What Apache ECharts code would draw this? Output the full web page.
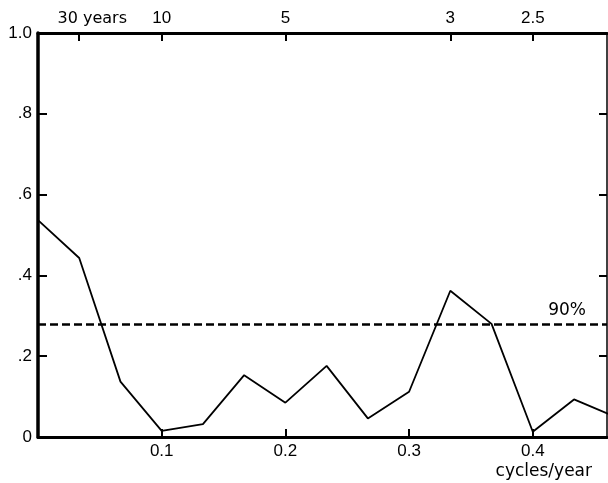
<!DOCTYPE html>
<html>
<head>
<meta charset="utf-8">
<script src="https://cdn.jsdelivr.net/npm/echarts@6/dist/echarts.min.js"></script>
<style>html,body{margin:0;padding:0;background:#fff;}#c{width:608px;height:483px;}</style>
</head>
<body>
<div id="c"></div>
<script>
// frequencies (cycles/year), spacing 1/30
const freqs = [0, 1/30, 2/30, 3/30, 4/30, 5/30, 6/30, 7/30, 8/30, 9/30, 10/30, 11/30, 12/30, 13/30, 14/30];
const power = [0.537, 0.443, 0.137, 0.015, 0.032, 0.153, 0.085, 0.176, 0.046, 0.112, 0.362, 0.28, 0.013, 0.093, 0.05];
const sig90 = 0.277;
const bottomTicks = [0.1, 0.2, 0.3, 0.4];
const periodTicks = [1/30, 1/10, 1/5, 1/3, 1/2.5];
const periodLabels = ['30 years', '10', '5', '3', '2.5'];
const yTicks = [0, 0.2, 0.4, 0.6, 0.8, 1.0];
const yTickLabels = ['0', '.2', '.4', '.6', '.8', '1.0'];

const numFont = 'Liberation Sans';
const chart = echarts.init(document.getElementById('c'), null, {renderer: 'canvas'});
const xMax = 0.46;

function periodLabel(v) {
  for (let i = 0; i < periodTicks.length; i++) {
    if (Math.abs(periodTicks[i] - v) < 1e-6) {
      return i === 0 ? '{w|' + periodLabels[i] + '}' : periodLabels[i];
    }
  }
  return '';
}
function yLabel(v) {
  for (let i = 0; i < yTicks.length; i++) {
    if (Math.abs(yTicks[i] - v) < 1e-6) return yTickLabels[i];
  }
  return '';
}

chart.setOption({
  backgroundColor: '#fff',
  animation: false,
  grid: {left: 38, right: 1, top: 33, bottom: 46, containLabel: false},
  xAxis: [
    {
      type: 'value', position: 'bottom', min: 0, max: xMax,
      splitLine: {show: false},
      axisLine: {show: true, onZero: false, lineStyle: {color: '#000', width: 3}},
      axisTick: {show: true, inside: true, length: 8, lineStyle: {color: '#000', width: 2}, customValues: bottomTicks},
      axisLabel: {show: true, margin: 6, color: '#000', fontFamily: numFont, fontSize: 17,
        customValues: bottomTicks, formatter: v => v.toFixed(1)},
      name: 'cycles/year', nameLocation: 'end', nameGap: -15,
      nameTextStyle: {color: '#000', fontFamily: 'DejaVu Sans', fontSize: 17, align: 'right', verticalAlign: 'top', padding: [26, 0, 0, 0]}
    },
    {
      type: 'value', position: 'top', min: 0, max: xMax,
      splitLine: {show: false},
      axisLine: {show: true, onZero: false, lineStyle: {color: '#000', width: 3}},
      axisTick: {show: true, inside: true, length: 8, lineStyle: {color: '#000', width: 2}, customValues: periodTicks},
      axisLabel: {show: true, margin: 6, color: '#000', fontFamily: numFont, fontSize: 17,
        customValues: periodTicks, formatter: periodLabel,
        rich: {w: {fontFamily: 'DejaVu Sans', fontSize: 16, color: '#000', padding: [0, 0, 0, 26]}}}
    }
  ],
  yAxis: [
    {
      type: 'value', position: 'left', min: 0, max: 1, interval: 0.2,
      splitLine: {show: false},
      axisLine: {show: true, onZero: false, lineStyle: {color: '#000', width: 3.5}},
      axisTick: {show: true, inside: true, length: 9, lineStyle: {color: '#000', width: 2}},
      axisLabel: {show: true, margin: 6, color: '#000', fontFamily: numFont, fontSize: 17, formatter: yLabel}
    },
    {
      type: 'value', position: 'right', min: 0, max: 1, interval: 0.2,
      splitLine: {show: false},
      axisLine: {show: true, onZero: false, lineStyle: {color: '#000', width: 1.5}},
      axisTick: {show: true, inside: true, length: 8, lineStyle: {color: '#000', width: 2}, customValues: [0.2, 0.4, 0.6, 0.8]},
      axisLabel: {show: false}
    }
  ],
  series: [
    {
      type: 'line', xAxisIndex: 0, yAxisIndex: 0,
      data: freqs.map((f, i) => [f, power[i]]),
      symbol: 'none', clip: true,
      lineStyle: {color: '#000', width: 1.8},
      markLine: {
        silent: true, symbol: 'none',
        lineStyle: {color: '#000', width: 2.5, type: [8, 4]},
        label: {show: true, position: 'insideEndTop', formatter: '90%', color: '#000',
          fontFamily: 'DejaVu Sans', fontSize: 17, padding: [0, 16, 0, 0], distance: 5},
        data: [{yAxis: sig90}]
      }
    }
  ]
});
</script>
</body>
</html>
